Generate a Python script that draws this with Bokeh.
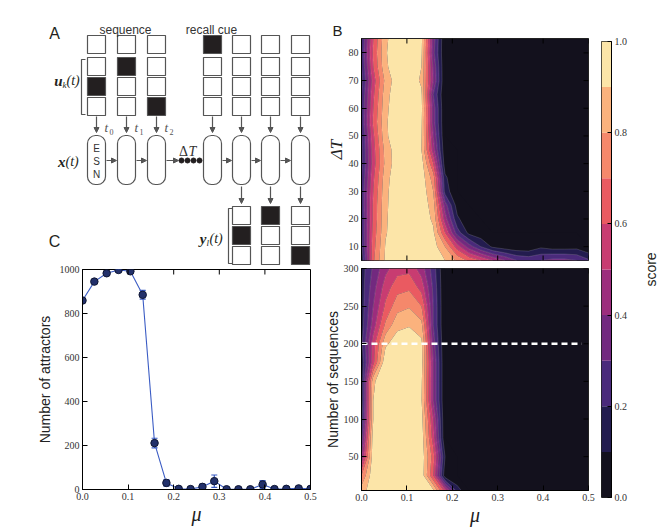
import numpy as np
from bokeh.plotting import figure
from bokeh.layouts import row, column
from bokeh.models import (FixedTicker, NumeralTickFormatter, Label, Arrow,
                          NormalHead, BoxAnnotation, Whisker, TeeHead, ColumnDataSource)
from bokeh.embed import file_html
from bokeh.resources import INLINE

# ---------------------------------------------------------------- data
mu = [0.0, 0.026, 0.053, 0.079, 0.105, 0.132, 0.158, 0.184, 0.211, 0.237,
      0.263, 0.289, 0.316, 0.342, 0.368, 0.395, 0.421, 0.447, 0.474, 0.5]

# Panel C: number of attractors vs mu
attractors = [859, 945, 983, 998, 992, 885, 211, 30, 3, 2, 12, 38, 1, 1, 1, 23, 2, 3, 5, 3]
attractors_err = [4, 5, 4, 2, 3, 20, 22, 15, 2, 2, 12, 28, 1, 1, 1, 18, 2, 2, 3, 2]

# Panel B (top): score vs mu (columns) and Delta T (rows)
delta_T = [5, 10, 15, 20, 25, 30, 35, 40, 45, 50, 55, 60, 65, 70, 75, 80, 85]
dT_05 = [0.12, 0.68, 0.92, 0.97, 0.98, 0.97, 0.96, 0.90, 0.78, 0.68, 0.60, 0.50, 0.40, 0.30, 0.27, 0.30, 0.33, 0.33, 0.30, 0.22]
dT_10 = [0.18, 0.66, 0.91, 0.97, 0.98, 0.97, 0.95, 0.80, 0.55, 0.35, 0.20, 0.08, 0.04, 0.02, 0.02, 0.08, 0.05, 0.05, 0.06, 0.00]
dT_15 = [0.20, 0.64, 0.89, 0.97, 0.98, 0.97, 0.92, 0.60, 0.25, 0.07, 0.03, 0, 0, 0, 0, 0, 0, 0, 0, 0]
dT_20 = [0.20, 0.62, 0.885, 0.97, 0.98, 0.97, 0.88, 0.45, 0.12, 0.02, 0, 0, 0, 0, 0, 0, 0, 0, 0, 0]
dT_25 = [0.22, 0.62, 0.88, 0.97, 0.98, 0.97, 0.85, 0.35, 0.05, 0, 0, 0, 0, 0, 0, 0, 0, 0, 0, 0]
dT_30 = [0.22, 0.60, 0.875, 0.97, 0.98, 0.97, 0.80, 0.16, 0, 0, 0, 0, 0, 0, 0, 0, 0, 0, 0, 0]
dT_35 = [0.20, 0.58, 0.86, 0.97, 0.98, 0.96, 0.75, 0.12, 0, 0, 0, 0, 0, 0, 0, 0, 0, 0, 0, 0]
dT_40 = [0.18, 0.55, 0.83, 0.96, 0.98, 0.95, 0.60, 0.04, 0, 0, 0, 0, 0, 0, 0, 0, 0, 0, 0, 0]
dT_45 = [0.18, 0.56, 0.84, 0.96, 0.98, 0.90, 0.45, 0.02, 0, 0, 0, 0, 0, 0, 0, 0, 0, 0, 0, 0]
dT_50 = [0.19, 0.58, 0.88, 0.97, 0.98, 0.91, 0.40, 0, 0, 0, 0, 0, 0, 0, 0, 0, 0, 0, 0, 0]
dT_55 = [0.22, 0.62, 0.885, 0.97, 0.98, 0.92, 0.35, 0, 0, 0, 0, 0, 0, 0, 0, 0, 0, 0, 0, 0]
dT_60 = [0.21, 0.60, 0.875, 0.97, 0.98, 0.93, 0.35, 0, 0, 0, 0, 0, 0, 0, 0, 0, 0, 0, 0, 0]
dT_65 = [0.20, 0.58, 0.86, 0.97, 0.98, 0.92, 0.30, 0, 0, 0, 0, 0, 0, 0, 0, 0, 0, 0, 0, 0]
dT_70 = [0.17, 0.55, 0.83, 0.96, 0.98, 0.88, 0.40, 0, 0, 0, 0, 0, 0, 0, 0, 0, 0, 0, 0, 0]
dT_75 = [0.20, 0.60, 0.88, 0.97, 0.98, 0.90, 0.38, 0, 0, 0, 0, 0, 0, 0, 0, 0, 0, 0, 0, 0]
dT_80 = [0.22, 0.62, 0.89, 0.97, 0.98, 0.92, 0.33, 0, 0, 0, 0, 0, 0, 0, 0, 0, 0, 0, 0, 0]
dT_85 = [0.20, 0.60, 0.88, 0.97, 0.98, 0.93, 0.35, 0, 0, 0, 0, 0, 0, 0, 0, 0, 0, 0, 0, 0]

# Panel B (bottom): score vs mu (columns) and number of sequences (rows)
n_seq = [5, 25, 50, 75, 100, 125, 150, 175, 200, 225, 250, 275, 300]
N_005 = [0.85, 0.97, 1.0, 1.0, 1.0, 0.98, 0.92, 0.55, 0.15, 0, 0, 0, 0, 0, 0, 0, 0, 0, 0, 0]
N_025 = [0.70, 0.98, 1.0, 1.0, 1.0, 0.97, 0.60, 0.03, 0, 0, 0, 0, 0, 0, 0, 0, 0, 0, 0, 0]
N_050 = [0.40, 0.97, 1.0, 1.0, 1.0, 0.97, 0.65, 0.10, 0, 0, 0, 0, 0, 0, 0, 0, 0, 0, 0, 0]
N_075 = [0.25, 0.96, 1.0, 1.0, 1.0, 0.96, 0.55, 0, 0, 0, 0, 0, 0, 0, 0, 0, 0, 0, 0, 0]
N_100 = [0.15, 0.90, 1.0, 1.0, 1.0, 0.94, 0.50, 0, 0, 0, 0, 0, 0, 0, 0, 0, 0, 0, 0, 0]
N_125 = [0.12, 0.90, 1.0, 1.0, 1.0, 0.91, 0.40, 0, 0, 0, 0, 0, 0, 0, 0, 0, 0, 0, 0, 0]
N_150 = [0.12, 0.88, 1.0, 1.0, 0.99, 0.92, 0.40, 0, 0, 0, 0, 0, 0, 0, 0, 0, 0, 0, 0, 0]
N_175 = [0.12, 0.57, 0.99, 0.99, 0.99, 0.94, 0.40, 0, 0, 0, 0, 0, 0, 0, 0, 0, 0, 0, 0, 0]
N_200 = [0.18, 0.55, 0.88, 0.96, 0.98, 0.93, 0.35, 0, 0, 0, 0, 0, 0, 0, 0, 0, 0, 0, 0, 0]
N_225 = [0.15, 0.45, 0.72, 0.87, 0.89, 0.83, 0.30, 0, 0, 0, 0, 0, 0, 0, 0, 0, 0, 0, 0, 0]
N_250 = [0.15, 0.40, 0.62, 0.76, 0.79, 0.70, 0.30, 0, 0, 0, 0, 0, 0, 0, 0, 0, 0, 0, 0, 0]
N_275 = [0.15, 0.36, 0.55, 0.66, 0.68, 0.56, 0.28, 0, 0, 0, 0, 0, 0, 0, 0, 0, 0, 0, 0, 0]
N_300 = [0.15, 0.32, 0.47, 0.56, 0.57, 0.45, 0.25, 0, 0, 0, 0, 0, 0, 0, 0, 0, 0, 0, 0, 0]
highlight_N = 200
highlight_mu_end = 0.485

levels = [0.0, 0.1, 0.2, 0.3, 0.4, 0.5, 0.6, 0.7, 0.8, 0.9, 1.0]
band_colors = ["#13111d", "#231c4f", "#4a2a7b", "#72297f", "#9c2d7d",
               "#c83c71", "#ea5a61", "#f5886b", "#fbb27d", "#fce5a8"]

mu_ticks = [0.0, 0.1, 0.2, 0.3, 0.4, 0.5]
dT_ticks = [10, 20, 30, 40, 50, 60, 70, 80]
N_ticks = [50, 100, 150, 200, 250, 300]
attr_ticks = [0, 200, 400, 600, 800, 1000]
score_ticks = [0.0, 0.2, 0.4, 0.6, 0.8, 1.0]

# Panel A diagram content
cue_on = [0, 0, 0, 1, 0, 0, 0]                 # recall-cue unit per time step
input_on = [1, 0, 2, None, None, None, None]   # active input unit per time step
output_on = [None, None, None, None, 1, 0, 2]  # active output unit per time step
t_subs = ["0", "1", "2"]

# ---------------------------------------------------------------- style
SERIF = "Liberation Serif"
SANS = "Liberation Sans"
INK = "#231f20"
GRAY = "#555555"
BLUE = "#3b5cc4"
TICK = 5
LINE_ALPHA = [0.0] + [0.3] * 9 + [0.0]


def set_axis(ax, ticks, fmt=None):
    ax.ticker = FixedTicker(ticks=ticks)
    ax.major_tick_in = TICK
    ax.major_tick_out = 0
    ax.minor_tick_line_color = None
    ax.major_tick_line_color = "black"
    ax.axis_line_color = "black"
    ax.major_label_text_font = SERIF
    ax.major_label_text_color = "#333333"
    ax.major_label_text_font_size = "10px"
    ax.major_label_standoff = 3
    if fmt:
        ax.formatter = NumeralTickFormatter(format=fmt)


def inner_ticks(p, xr, yr, fw, fh, xt, yt, sides):
    """mirror tick marks (inward) on the given frame sides"""
    dx = (xr[1] - xr[0]) / fw * TICK
    dy = (yr[1] - yr[0]) / fh * TICK
    x0, y0, x1, y1 = [], [], [], []
    for t in xt:
        if "top" in sides:
            x0.append(t); y0.append(yr[1]); x1.append(t); y1.append(yr[1] - dy)
        if "bottom" in sides:
            x0.append(t); y0.append(yr[0]); x1.append(t); y1.append(yr[0] + dy)
    for t in yt:
        if "right" in sides:
            x0.append(xr[1]); y0.append(t); x1.append(xr[1] - dx); y1.append(t)
    p.segment(x0=x0, y0=y0, x1=x1, y1=y1, line_color="black", line_width=1)


def axlabel(ax, text, font=SANS, size=14, style="normal", standoff=0):
    ax.axis_label = text
    ax.axis_label_text_font = font
    ax.axis_label_text_font_size = f"{size}px"
    ax.axis_label_text_font_style = style
    ax.axis_label_text_color = "#222222"
    ax.axis_label_standoff = standoff


def lab(p, x, y, text, size, font=SANS, style="normal", align="center",
        color=INK, angle=0.0):
    p.add_layout(Label(x=x, y=y, text=text, text_font=font,
                       text_font_size=f"{size}px", text_font_style=style,
                       text_align=align, text_baseline="middle",
                       text_color=color, angle=angle))


def blank(w, h):
    """figure whose frame is its whole canvas: one data unit = one pixel"""
    p = figure(width=w, height=h, x_range=(0, w), y_range=(0, h),
               x_axis_location=None, y_axis_location=None, min_border=0,
               outline_line_color=None, output_backend="svg", toolbar_location=None)
    p.frame_align = False
    p.grid.visible = False
    return p


COMMON = dict(output_backend="svg", toolbar_location=None)

# ---------------------------------------------------------------- panel A
PA_W, PA_H = 318, 265
pa = blank(PA_W, PA_H)


def fy(py):
    return PA_H - py


SQ, ROW = 18, 20
col_left = [87, 117, 147, 203, 232, 261, 291]
cue_top, in_top, esn_top, esn_bot, out_top = 35, 57, 135, 184, 206

sx, sy, sf = [], [], []
for i, left in enumerate(col_left):
    cx = left + SQ / 2
    sx.append(cx); sy.append(fy(cue_top + SQ / 2)); sf.append(INK if cue_on[i] else "white")
    for r in range(3):
        sx.append(cx); sy.append(fy(in_top + r * ROW + SQ / 2))
        sf.append(INK if input_on[i] == r else "white")
    if output_on[i] is not None:
        for r in range(3):
            sx.append(cx); sy.append(fy(out_top + r * ROW + SQ / 2))
            sf.append(INK if output_on[i] == r else "white")
pa.rect(x=sx, y=sy, width=SQ, height=SQ, fill_color=sf, line_color=GRAY, line_width=1.2)

head = dict(size=5, fill_color=GRAY, line_color=GRAY)
for i, left in enumerate(col_left):
    cx = left + SQ / 2
    pa.add_layout(Arrow(end=NormalHead(**head), x_start=cx, y_start=fy(116), x_end=cx,
                        y_end=fy(132), line_color=GRAY, line_width=1.2))
    pa.add_layout(BoxAnnotation(left=left, right=left + SQ, top=fy(esn_top),
                                bottom=fy(esn_bot), border_radius=8, fill_color="white",
                                fill_alpha=1.0, line_color=GRAY, line_alpha=1.0,
                                line_width=1.2))
    if output_on[i] is not None:
        pa.add_layout(Arrow(end=NormalHead(**head), x_start=cx, y_start=fy(186), x_end=cx,
                            y_end=fy(203), line_color=GRAY, line_width=1.2))

for a, b in [(0, 1), (1, 2), (3, 4), (4, 5), (5, 6)]:
    pa.add_layout(Arrow(end=NormalHead(**head), x_start=col_left[a] + SQ + 1, y_start=fy(160),
                        x_end=col_left[b] - 1, y_end=fy(160), line_color=GRAY, line_width=1.2))
pa.add_layout(Arrow(end=NormalHead(**head), x_start=col_left[2] + SQ + 1, y_start=fy(160),
                    x_end=178, y_end=fy(160), line_color=GRAY, line_width=1.2))
pa.scatter(x=[181, 187, 193, 199], y=[fy(160)] * 4, size=5, fill_color=INK, line_color=INK)

# brackets
pa.multi_line(xs=[[85, 81, 81, 85], [232, 228, 228, 232]],
              ys=[[fy(59), fy(59), fy(114), fy(114)], [fy(208), fy(208), fy(263), fy(263)]],
              line_color=GRAY, line_width=1.2)

lab(pa, 54, fy(33), "A", 16)
lab(pa, 54, fy(241), "C", 16)
lab(pa, 125, fy(29), "sequence", 12, color="#333333")
lab(pa, 211, fy(29), "recall cue", 12, color="#333333")
for ch, yy in zip("ESN", [148, 161, 174]):
    lab(pa, 96, fy(yy), ch, 10, color="#333333")
for k in range(3):
    cx = col_left[k] + SQ / 2
    lab(pa, cx + 8, fy(127), "t", 13, font=SERIF, style="italic", align="left", color=GRAY)
    lab(pa, cx + 13, fy(131), t_subs[k], 8, font=SERIF, align="left", color=GRAY)
lab(pa, 183, fy(151), "Δ", 14, font=SERIF, color="#333333")
lab(pa, 192, fy(151), "T", 14, font=SERIF, style="italic", color="#333333")
# u_k(t)
lab(pa, 62, fy(80), "u", 15, font=SERIF, style="bold italic", align="right")
lab(pa, 62, fy(84), "k", 9, font=SERIF, style="italic", align="left")
lab(pa, 66, fy(80), "(t)", 14, font=SERIF, style="italic", align="left")
# x(t)
lab(pa, 65, fy(161), "x", 15, font=SERIF, style="bold italic", align="right")
lab(pa, 65, fy(161), "(t)", 14, font=SERIF, style="italic", align="left")
# y_l(t)
lab(pa, 206, fy(238), "y", 15, font=SERIF, style="bold italic", align="right")
lab(pa, 206, fy(242), "l", 9, font=SERIF, style="italic", align="left")
lab(pa, 209, fy(238), "(t)", 14, font=SERIF, style="italic", align="left")

# ---------------------------------------------------------------- panel C
C_XR, C_YR, C_FW, C_FH = (0, 0.5), (0, 1000), 228, 220
pc = figure(width=318, height=263, x_range=C_XR, y_range=C_YR,
            min_border_left=82, min_border_right=8, min_border_top=4, min_border_bottom=39,
            **COMMON)
pc.frame_align = False
pc.grid.visible = False
pc.outline_line_color = "black"
set_axis(pc.xaxis[0], mu_ticks, fmt="0.0")
set_axis(pc.yaxis[0], attr_ticks)
axlabel(pc.yaxis[0], "Number of attractors", standoff=4)
axlabel(pc.xaxis[0], "μ", font=SERIF, size=20, style="italic", standoff=0)

src = ColumnDataSource(dict(
    x=mu, y=attractors,
    upper=[a + e for a, e in zip(attractors, attractors_err)],
    lower=[a - e for a, e in zip(attractors, attractors_err)]))
pc.line("x", "y", source=src, line_color=BLUE, line_width=1.1)
pc.add_layout(Whisker(base="x", upper="upper", lower="lower", source=src,
                      line_color=BLUE, line_width=1.2,
                      upper_head=TeeHead(size=6, line_color=BLUE, line_width=1.2),
                      lower_head=TeeHead(size=6, line_color=BLUE, line_width=1.2)))
pc.scatter("x", "y", source=src, size=7.5, fill_color="#22306a", line_color="#0f1633",
           line_width=1)
inner_ticks(pc, C_XR, C_YR, C_FW, C_FH, mu_ticks, attr_ticks, ("top", "right"))

# ---------------------------------------------------------------- panel B header ("B")
phead = blank(277, 37)
lab(phead, 19, 37 - 29.5, "B", 15)

# ---------------------------------------------------------------- panel B top
BT_XR, BT_YR, B_FW, B_FH = (0, 0.5), (5, 85.2), 227, 222
Z_top = np.array([dT_05, dT_10, dT_15, dT_20, dT_25, dT_30, dT_35, dT_40, dT_45,
                  dT_50, dT_55, dT_60, dT_65, dT_70, dT_75, dT_80, dT_85])
pbt = figure(width=277, height=227, x_range=BT_XR, y_range=BT_YR, x_axis_location=None,
             min_border_left=43, min_border_right=7, min_border_top=1, min_border_bottom=4,
             background_fill_color=band_colors[0], **COMMON)
pbt.frame_align = False
pbt.grid.visible = False
pbt.outline_line_color = "#222222"
pbt.contour(x=mu, y=delta_T, z=Z_top, levels=levels, fill_color=band_colors,
            line_color="white", line_alpha=LINE_ALPHA, line_width=0.5)
set_axis(pbt.yaxis[0], dT_ticks)
axlabel(pbt.yaxis[0], "ΔT", font=SERIF, size=17, style="italic", standoff=0)
inner_ticks(pbt, BT_XR, BT_YR, B_FW, B_FH, mu_ticks, dT_ticks, ("top", "bottom", "right"))

# ---------------------------------------------------------------- panel B bottom
BB_XR, BB_YR = (0, 0.5), (5, 300)
Z_bot = np.array([N_005, N_025, N_050, N_075, N_100, N_125, N_150, N_175, N_200,
                  N_225, N_250, N_275, N_300])
pbb = figure(width=277, height=264, x_range=BB_XR, y_range=BB_YR,
             min_border_left=43, min_border_right=7, min_border_top=4, min_border_bottom=38,
             background_fill_color=band_colors[0], **COMMON)
pbb.frame_align = False
pbb.grid.visible = False
pbb.outline_line_color = "#222222"
pbb.contour(x=mu, y=n_seq, z=Z_bot, levels=levels, fill_color=band_colors,
            line_color="white", line_alpha=LINE_ALPHA, line_width=0.5)
pbb.line(x=[mu[0], highlight_mu_end], y=[highlight_N, highlight_N], line_color="white",
         line_width=2.5, line_dash="6 4")
set_axis(pbb.xaxis[0], mu_ticks, fmt="0.0")
set_axis(pbb.yaxis[0], N_ticks)
axlabel(pbb.yaxis[0], "Number of sequences", standoff=0)
axlabel(pbb.xaxis[0], "μ", font=SERIF, size=20, style="italic", standoff=0)
inner_ticks(pbb, BB_XR, BB_YR, B_FW, B_FH, mu_ticks, N_ticks, ("top", "right"))

# ---------------------------------------------------------------- colorbar
pcb = figure(width=35, height=528, x_range=(0, 1), y_range=(0, 1),
             min_border_left=6, min_border_right=17, min_border_top=41, min_border_bottom=31,
             x_axis_location=None, y_axis_location="right", **COMMON)
pcb.frame_align = False
pcb.grid.visible = False
pcb.outline_line_color = "#222222"
pcb.quad(left=0, right=1, bottom=levels[:-1], top=levels[1:], fill_color=band_colors,
         line_color=None)
set_axis(pcb.yaxis[0], score_ticks, fmt="0.0")
pcb.yaxis[0].major_tick_in = 4

pscore = blank(28, 528)
lab(pscore, 20, 528 - 269, "score", 14, angle=np.pi / 2)

layout = row(column(pa, pc), column(phead, pbt, pbb), pcb, pscore)
open("out.html", "w").write(file_html(layout, INLINE, title="figure"))
